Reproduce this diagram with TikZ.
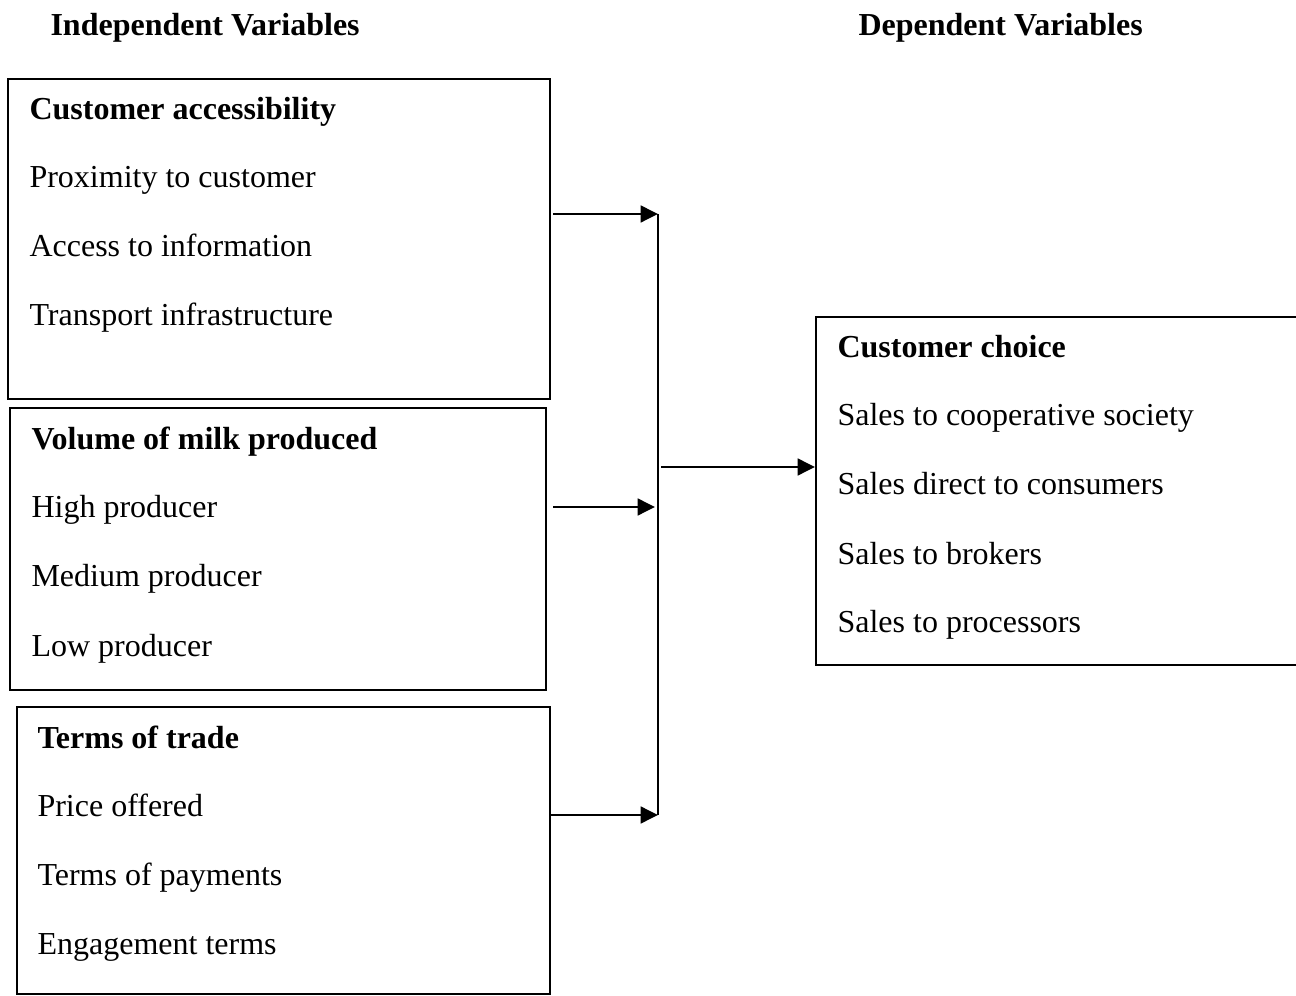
\documentclass[tikz,border=0pt]{standalone}
\usepackage{fontspec}
\setmainfont{Liberation Serif}
\usetikzlibrary{arrows.meta}
\begin{document}
\begin{tikzpicture}[x=0.375pt,y=-0.375pt,
  txt/.style={anchor=base west,inner sep=0pt,font=\fontsize{12pt}{14pt}\selectfont},
  ttl/.style={txt,font=\fontsize{12pt}{14pt}\selectfont\bfseries},
  boxx/.style={draw,line width=0.75pt,inner sep=0pt},
  conn/.style={line width=1.1pt},
  arr/.style={conn,-{Triangle[length=6.5pt,width=6.2pt]}}]
\useasboundingbox (0,0) rectangle (1296,996);
% headers
\node[ttl] (hi) at (50,36) {Independent Variables};
\node[ttl] (hd) at (858,36) {Dependent Variables};
% boxes
\node[boxx,minimum width={542*0.375pt},minimum height={320*0.375pt}] (b1) at (279,239) {};
\node[boxx,minimum width={536*0.375pt},minimum height={282*0.375pt}] (b2) at (278,549) {};
\node[boxx,minimum width={533*0.375pt},minimum height={287*0.375pt}] (b3) at (283.5,850.5) {};
\node[boxx,minimum width={484*0.375pt},minimum height={348*0.375pt}] (b4) at (1058,491) {};
% box 1 text
\node[ttl] (t1) at (29,120) {Customer accessibility};
\node[txt] (t1a) at (29,188) {Proximity to customer};
\node[txt] (t1b) at (29,257) {Access to information};
\node[txt] (t1c) at (29,326) {Transport infrastructure};
% box 2 text
\node[ttl] (t2) at (31,450) {Volume of milk produced};
\node[txt] (t2a) at (31,518) {High producer};
\node[txt] (t2b) at (31,587) {Medium producer};
\node[txt] (t2c) at (31,656) {Low producer};
% box 3 text
\node[ttl] (t3) at (37,748) {Terms of trade};
\node[txt] (t3a) at (37,816) {Price offered};
\node[txt] (t3b) at (37,885) {Terms of payments};
\node[txt] (t3c) at (37,954) {Engagement terms};
% box 4 text
\node[ttl] (t4) at (837,358) {Customer choice};
\node[txt] (t4a) at (837,426) {Sales to cooperative society};
\node[txt] (t4b) at (837,495) {Sales direct to consumers};
\node[txt] (t4c) at (837,564) {Sales to brokers};
\node[txt] (t4d) at (837,633) {Sales to processors};
% connector points
\coordinate (s1) at (553,214);
\coordinate (e1) at (658,214);
\coordinate (s2) at (553,507);
\coordinate (e2) at (655,507);
\coordinate (s3) at (550,815);
\coordinate (e3) at (658,815);
\coordinate (sc) at (661,467);
% connectors
\draw[arr] (s1) -- (e1);
\draw[arr] (s2) -- (e2);
\draw[arr] (s3) -- (e3);
\draw[conn] (e1) -- (e3);
\draw[arr] (sc) -- (b4.west |- sc);
\end{tikzpicture}
\end{document}
